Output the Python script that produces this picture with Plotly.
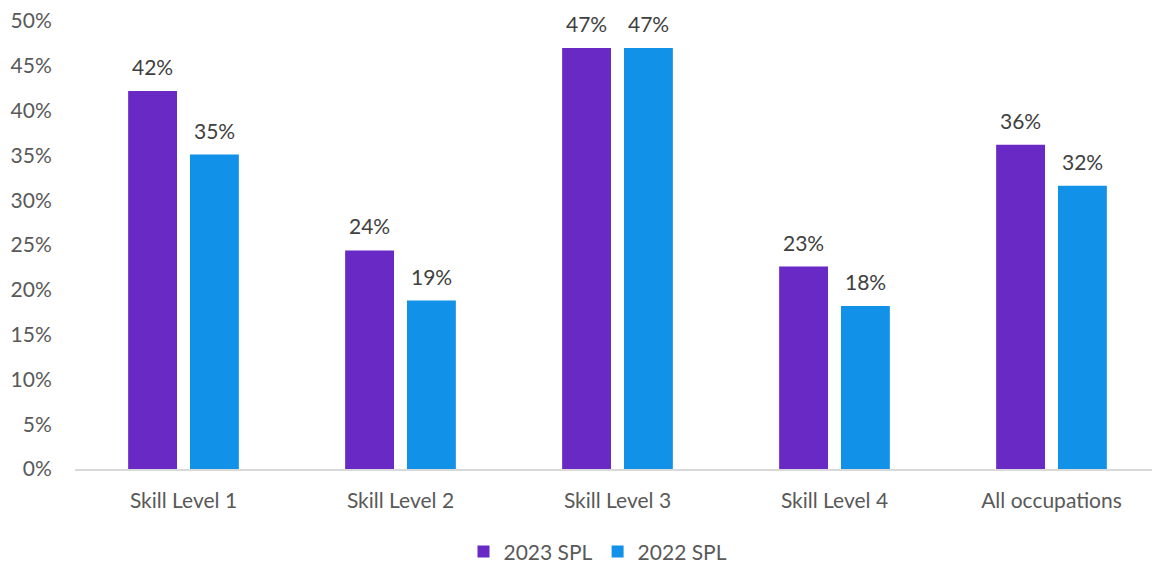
import plotly.graph_objects as go

categories = ["Skill Level 1", "Skill Level 2", "Skill Level 3", "Skill Level 4", "All occupations"]
spl_2023 = [0.422, 0.244, 0.470, 0.226, 0.362]
spl_2022 = [0.351, 0.188, 0.470, 0.182, 0.316]
series_names = ["2023 SPL", "2022 SPL"]
colors = ["#6929C4", "#1192E8"]
y_ticks = [0, 0.05, 0.10, 0.15, 0.20, 0.25, 0.30, 0.35, 0.40, 0.45, 0.50]

FONT = "Lato, 'Open Sans', sans-serif"
FS = 21
BARGAP = 0.43
BARGROUPGAP = 0.21

fig = go.Figure()
for name, vals, col in zip(series_names, [spl_2023, spl_2022], colors):
    fig.add_trace(go.Bar(
        x=categories, y=vals, name=name,
        marker=dict(color=col, line=dict(width=0)),
    ))

# data labels placed above bars via annotations
slot = (1 - BARGAP) / 2
offsets = [-slot / 2, slot / 2]
for k, vals in enumerate([spl_2023, spl_2022]):
    for i, v in enumerate(vals):
        fig.add_annotation(x=i + offsets[k], y=v, xref="x", yref="y",
                           text=f"{v:.0%}", showarrow=False, yanchor="bottom",
                           yshift=10, font=dict(size=FS, color="#404040", family=FONT))

# page body has an 8px default margin, so the figure is 8px smaller
fig.update_layout(
    width=1152, height=560,
    margin=dict(l=67, r=0, t=13, b=99, autoexpand=False),
    paper_bgcolor="white", plot_bgcolor="white",
    barmode="group", bargap=BARGAP, bargroupgap=BARGROUPGAP,
    font=dict(family=FONT, size=FS, color="#595959"),
    showlegend=True,
    legend=dict(orientation="h", x=(590 - 67) / 1085, xanchor="center",
                y=-0.185, yanchor="middle",
                font=dict(size=FS, color="#595959"), itemwidth=30,
                traceorder="normal"),
)
fig.update_yaxes(range=[0, 0.5], tickvals=y_ticks, tickformat=".0%",
                 showgrid=False, zeroline=False, showline=False, automargin=False,
                 ticks="outside", ticklen=18, tickcolor="white",
                 ticklabeloverflow="allow",
                 tickfont=dict(size=FS, color="#595959"))
fig.update_xaxes(showline=True, linecolor="#D9D9D9", linewidth=1.5, automargin=False,
                 showgrid=False, ticks="outside", ticklen=12, tickcolor="white",
                 tickfont=dict(size=FS, color="#595959"))

fig.write_html("out.html")
